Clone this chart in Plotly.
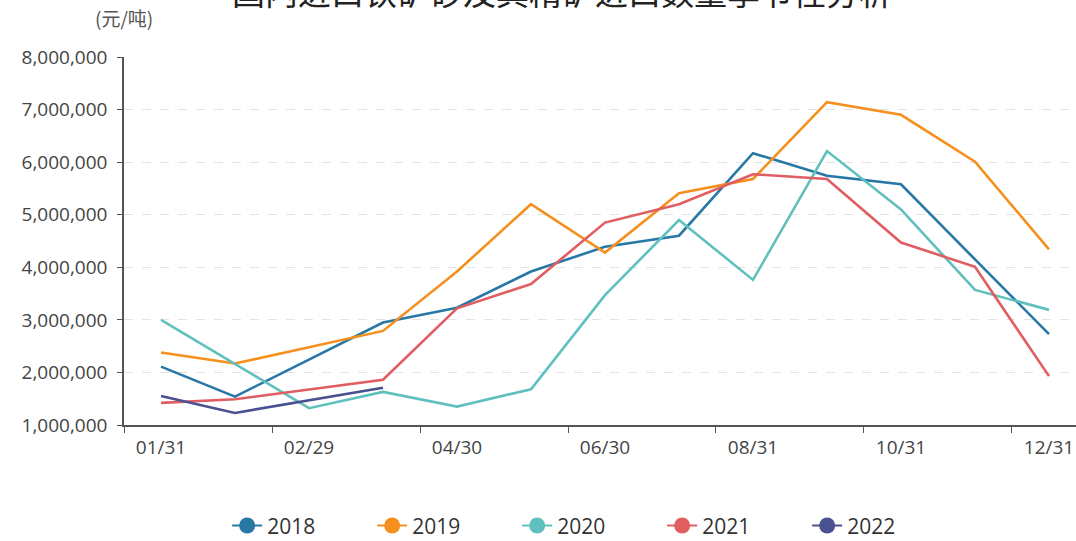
import plotly.graph_objects as go

categories = ["01/31", "02/28", "02/29", "03/31", "04/30", "05/31", "06/30",
              "07/31", "08/31", "09/30", "10/31", "11/30", "12/31"]
tick_labels = ["01/31", "02/29", "04/30", "06/30", "08/31", "10/31", "12/31"]

v2018 = [2110000, 1540000, None, 2950000, 3230000, 3920000, 4390000,
         4600000, 6170000, 5740000, 5580000, 4150000, 2730000]
v2019 = [2380000, 2170000, None, 2790000, 3920000, 5200000, 4280000,
         5410000, 5680000, 7140000, 6900000, 6010000, 4340000]
v2020 = [3000000, None, 1320000, 1630000, 1350000, 1680000, 3470000,
         4900000, 3760000, 6210000, 5100000, 3570000, 3190000]
v2021 = [1420000, 1490000, None, 1860000, 3220000, 3680000, 4850000,
         5200000, 5770000, 5680000, 4470000, 4010000, 1930000]
v2022 = [1550000, 1230000, None, 1710000, None, None, None,
         None, None, None, None, None, None]

series = [
    ("2018", v2018, "#2878a6"),
    ("2019", v2019, "#f5901f"),
    ("2020", v2020, "#5fc0bd"),
    ("2021", v2021, "#e05d61"),
    ("2022", v2022, "#4a5190"),
]

fig = go.Figure()
for name, vals, color in series:
    fig.add_trace(go.Scatter(
        x=categories, y=vals, name=name, mode="lines",
        line=dict(color=color, width=2.6), connectgaps=True,
        showlegend=False, hoverinfo="x+y+name"))
for name, vals, color in series:
    fig.add_trace(go.Scatter(
        x=[None], y=[None], name=name, mode="lines+markers",
        line=dict(color=color, width=2), marker=dict(color=color, size=16),
        showlegend=True))

fig.update_layout(
    width=1076, height=541,
    margin=dict(l=124, r=0, t=57, b=116),
    plot_bgcolor="white", paper_bgcolor="white",
    font=dict(family="Open Sans, Noto Sans CJK SC, sans-serif", color="#333333"),
    showlegend=True,
    legend=dict(orientation="h", xref="container", x=0.548, xanchor="center",
                yref="container", y=0.028, yanchor="middle",
                font=dict(size=21, color="#333333"),
                entrywidth=100, entrywidthmode="pixels",
                itemsizing="trace"),
    annotations=[
        dict(text="国内进口铁矿砂及其精矿进口数量季节性分析", xref="paper", yref="paper",
             x=0.46, y=1, xanchor="center", yanchor="bottom", yshift=40,
             showarrow=False,
             font=dict(size=33, color="#222222",
                       family="Noto Sans CJK SC, sans-serif")),
        dict(text="(元/吨)", xref="paper", yref="paper", x=0, y=1,
             xanchor="center", yanchor="bottom", yshift=24, showarrow=False,
             font=dict(size=19, color="#555555",
                       family="Noto Sans CJK SC, sans-serif")),
    ],
)

fig.update_xaxes(
    type="category", categoryorder="array", categoryarray=categories,
    range=[-0.5, 12.365],
    tickmode="array", tickvals=tick_labels, ticktext=tick_labels,
    tickson="boundaries", ticks="outside", ticklen=6, tickcolor="#555555",
    showline=True, linecolor="#555555", linewidth=1.5,
    showgrid=False, zeroline=False, ticklabelstandoff=4,
    tickfont=dict(size=19, color="#444444"),
)
fig.update_yaxes(
    range=[1000000, 8000000], dtick=1000000, tickformat=",d",
    ticks="outside", ticklen=5, tickcolor="#555555",
    showline=True, linecolor="#555555", linewidth=1.5,
    showgrid=True, gridcolor="#e3e3e3", griddash="dash", gridwidth=1,
    zeroline=False, ticklabelstandoff=6,
    tickfont=dict(size=19, color="#444444"),
)

fig.write_html("out.html", config={"displayModeBar": False},
               post_script="document.body.style.margin='0';document.body.style.overflow='hidden';")
